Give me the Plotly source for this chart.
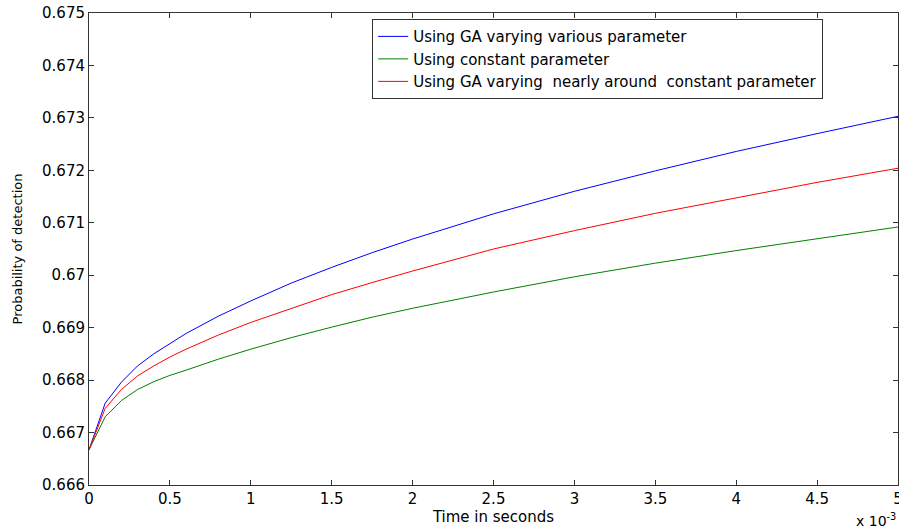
import plotly.graph_objects as go

# time in units of 1e-3 seconds
time_ms = [0, 0.1, 0.2, 0.3, 0.4, 0.5, 0.6, 0.8, 1.0, 1.25, 1.5, 1.75, 2.0, 2.5, 3.0, 3.5, 4.0, 4.5, 5.0]
ga_various = [0.66667, 0.66756, 0.66796, 0.66827, 0.66850, 0.66870, 0.66889, 0.66922, 0.66951, 0.66985,
              0.67015, 0.67043, 0.67069, 0.67117, 0.67160, 0.67199, 0.67236, 0.67270, 0.67303]
constant = [0.66667, 0.66730, 0.66761, 0.66782, 0.66797, 0.66809, 0.66819, 0.66840, 0.66859, 0.66881,
            0.66901, 0.66920, 0.66937, 0.66968, 0.66997, 0.67023, 0.67047, 0.67070, 0.67092]
ga_near = [0.66667, 0.66746, 0.66782, 0.66808, 0.66827, 0.66844, 0.66859, 0.66886, 0.66910, 0.66937,
           0.66963, 0.66986, 0.67008, 0.67050, 0.67085, 0.67118, 0.67148, 0.67177, 0.67204]

names = ["Using GA varying various parameter",
         "Using constant parameter",
         "Using GA varying  nearly around  constant parameter"]
colors = ["#0000ff", "#008000", "#ff0000"]

x_ticks = [0, 0.5, 1, 1.5, 2, 2.5, 3, 3.5, 4, 4.5, 5]
x_tick_text = ["0", "0.5", "1", "1.5", "2", "2.5", "3", "3.5", "4", "4.5", "5"]
y_ticks = [0.666, 0.667, 0.668, 0.669, 0.670, 0.671, 0.672, 0.673, 0.674, 0.675]
y_tick_text = ["0.666", "0.667", "0.668", "0.669", "0.67", "0.671", "0.672", "0.673", "0.674", "0.675"]

FONT = "DejaVu Sans, Liberation Sans, Arial, sans-serif"

fig = go.Figure()
for ys, nm, c in zip([ga_various, constant, ga_near], names, colors):
    fig.add_trace(go.Scatter(x=time_ms, y=ys, mode="lines", name=nm,
                             line=dict(color=c, width=1)))

axis_common = dict(showline=True, linecolor="#333333", linewidth=1, mirror="ticks",
                   ticks="inside", ticklen=5, tickcolor="#333333", showgrid=False,
                   zeroline=False, ticklabeloverflow="allow", automargin=False,
                   tickfont=dict(size=15, color="#000000", family=FONT))

fig.update_xaxes(range=[0, 5], tickvals=x_ticks, ticktext=x_tick_text,
                 title=dict(text="Time in seconds", font=dict(size=15, color="#000", family=FONT), standoff=0),
                 **axis_common)
fig.update_yaxes(range=[0.666, 0.675], tickvals=y_ticks, ticktext=y_tick_text,
                 title=dict(text="Probability of detection", font=dict(size=13, color="#000", family=FONT), standoff=16),
                 **axis_common)

fig.add_annotation(text="x 10<sup>-3</sup>", xref="paper", yref="paper",
                   x=1.0, y=0, xanchor="right", yanchor="top", yshift=-24,
                   showarrow=False, font=dict(size=14, color="#000", family=FONT))

fig.update_layout(
    width=899, height=528,
    margin=dict(l=89, r=1, t=13, b=43),
    plot_bgcolor="white", paper_bgcolor="white",
    font=dict(family=FONT, color="#000"),
    showlegend=True,
    legend=dict(x=0.35, y=0.987, xanchor="left", yanchor="top",
                bgcolor="white", bordercolor="#333333", borderwidth=1,
                font=dict(size=15, color="#000", family=FONT), tracegroupgap=0),
)

fig.write_html("out.html", config={"displayModeBar": False},
               post_script="document.body.style.margin='0px';")
